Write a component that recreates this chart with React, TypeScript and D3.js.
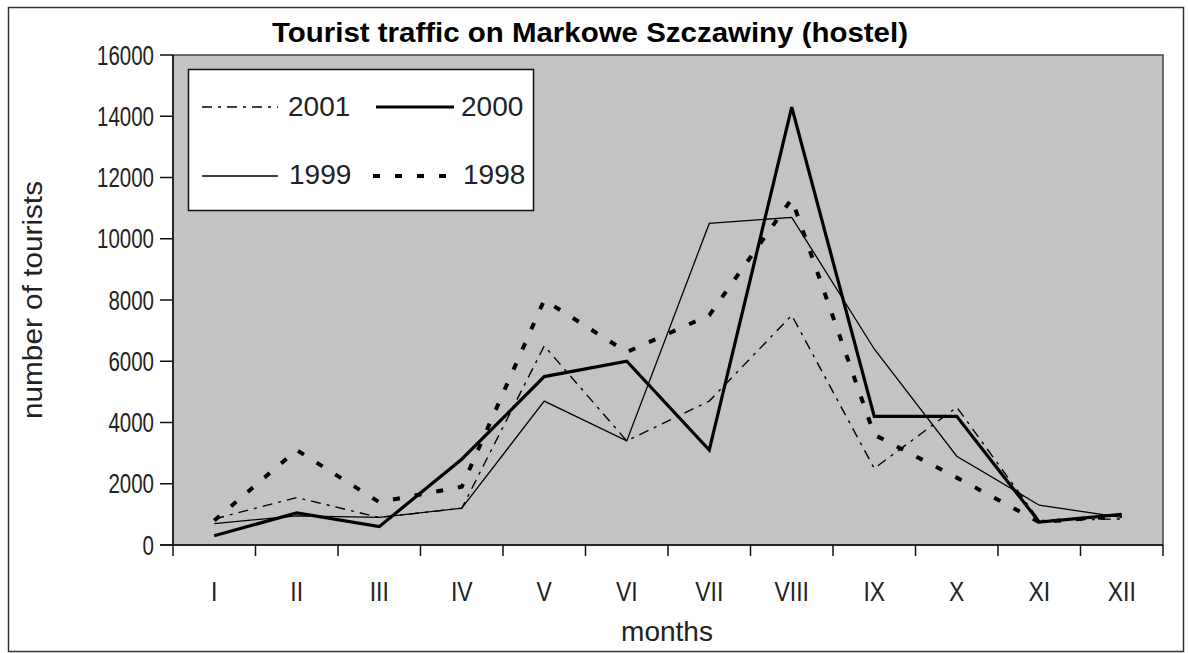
import React from 'react';
import * as d3 from 'd3';

const months = ['I', 'II', 'III', 'IV', 'V', 'VI', 'VII', 'VIII', 'IX', 'X', 'XI', 'XII'];
const y2001 = [850, 1550, 900, 1200, 6500, 3400, 4700, 7500, 2500, 4500, 800, 850];
const y2000 = [300, 1050, 600, 2800, 5500, 6000, 3100, 14300, 4200, 4200, 750, 1000];
const y1999 = [700, 950, 900, 1200, 4700, 3400, 10500, 10700, 6400, 2900, 1300, 900];
const y1998 = [800, 3100, 1400, 1900, 8000, 6300, 7500, 11300, 3600, 2200, 750, 950];
const yTicks = [0, 2000, 4000, 6000, 8000, 10000, 12000, 14000, 16000];

const font = "'Liberation Sans', Arial, sans-serif";

// line styles per series
const series = [
    { name: '2001', values: y2001, width: 1.4, dash: '10,6,3,6' },
    { name: '2000', values: y2000, width: 3.2, dash: null },
    { name: '1999', values: y1999, width: 1.3, dash: null },
    { name: '1998', values: y1998, width: 4, dash: '7,15' },
];

function App() {
    const left = 173, right = 1163, top = 55, bottom = 545;
    const x = d3.scaleBand().domain(months).range([left, right]).padding(0);
    const y = d3.scaleLinear().domain([0, 16000]).range([bottom, top]);
    const cx = (m) => x(m) + x.bandwidth() / 2;
    const line = d3.line().x((d, i) => cx(months[i])).y(d => y(d));

    const legendPos = [
        { x1: 202, x2: 278, ly: 107, tx: 288, ty: 116 },
        { x1: 376, x2: 454, ly: 107, tx: 461, ty: 116 },
        { x1: 202, x2: 278, ly: 176, tx: 289, ty: 184 },
        { x1: 373, x2: 454, ly: 176, tx: 463, ty: 184 },
    ];

    return (
        <svg width={1188} height={653} style={{ position: 'absolute', left: 0, top: 0, background: 'white' }}
            fontFamily={font}>
            <rect x={8.5} y={7.5} width={1175} height={644} fill="white" stroke="#333" strokeWidth={1.5} />
            <text x={590} y={42} textAnchor="middle" fontSize={27} fontWeight="bold" textLength={636}
                lengthAdjust="spacingAndGlyphs">Tourist traffic on Markowe Szczawiny (hostel)</text>

            <rect x={left} y={top} width={right - left} height={bottom - top} fill="#c3c3c6" stroke="#444" strokeWidth={1.5} />

            {/* y axis */}
            <line x1={left} x2={left} y1={top} y2={bottom} stroke="#111" strokeWidth={1.5} />
            {yTicks.map(t => (
                <g key={t}>
                    <line x1={left - 13} x2={left} y1={y(t)} y2={y(t)} stroke="#111" strokeWidth={1.5} />
                    <text x={154} y={y(t)} dy="0.36em" textAnchor="end" fontSize={27} fill="#222"
                        textLength={String(t).length * 11.4} lengthAdjust="spacingAndGlyphs">{t}</text>
                </g>
            ))}
            <text transform="translate(42,300) rotate(-90)" textAnchor="middle" fontSize={27} fill="#222"
                textLength={238} lengthAdjust="spacingAndGlyphs">number of tourists</text>

            {/* x axis */}
            <line x1={left - 13} x2={right} y1={bottom} y2={bottom} stroke="#111" strokeWidth={1.5} />
            {months.map(m => (
                <line key={'t' + m} x1={x(m)} x2={x(m)} y1={bottom} y2={bottom + 11} stroke="#111" strokeWidth={1.5} />
            ))}
            <line x1={right} x2={right} y1={bottom} y2={bottom + 11} stroke="#111" strokeWidth={1.5} />
            {months.map(m => (
                <text key={m} transform={`translate(${cx(m)},601) scale(0.82,1)`} textAnchor="middle" fontSize={28}
                    fill="#222">{m}</text>
            ))}
            <text x={667} y={641} textAnchor="middle" fontSize={28} fill="#222">months</text>

            {/* series */}
            {series.map(s => (
                <path key={s.name} d={line(s.values)} fill="none" stroke="#000" strokeWidth={s.width}
                    strokeDasharray={s.dash || undefined} strokeLinejoin="miter" />
            ))}

            {/* legend */}
            <rect x={188.5} y={69.5} width={345} height={141} fill="white" stroke="#111" strokeWidth={1.5} />
            {series.map((s, i) => {
                const p = legendPos[i];
                return (
                    <g key={'lg' + s.name}>
                        <line x1={p.x1} x2={p.x2} y1={p.ly} y2={p.ly} stroke="#000" strokeWidth={s.width}
                            strokeDasharray={s.dash || undefined} />
                        <text x={p.tx} y={p.ty} fontSize={28} fill="#222">{s.name}</text>
                    </g>
                );
            })}
        </svg>
    );
}

export default App;
